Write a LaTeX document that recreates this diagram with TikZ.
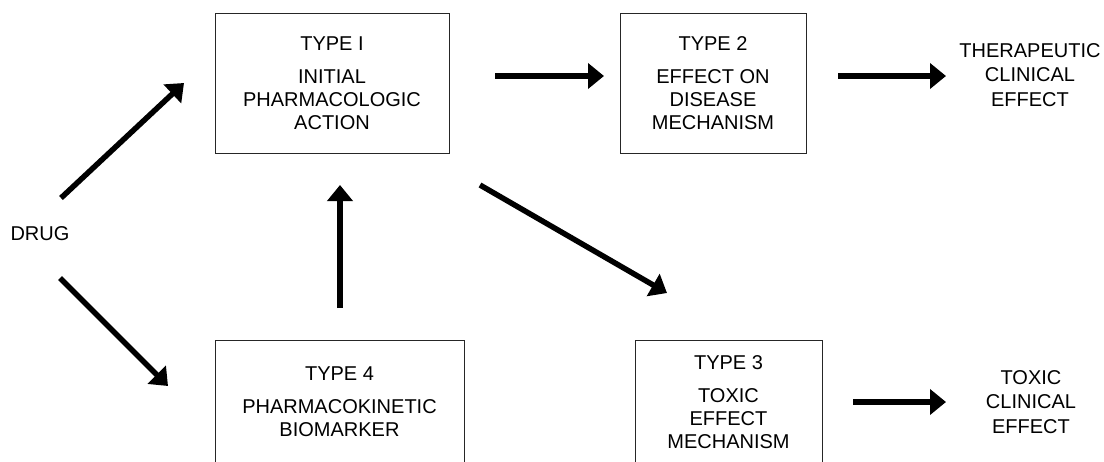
\documentclass[tikz,border=0pt]{standalone}
\usepackage{fontspec}
\setmainfont{Liberation Sans}
\usetikzlibrary{arrows.meta}
\begin{document}
\begin{tikzpicture}[x=1pt,y=-1pt,
  box/.style={draw=black!85, line width=1pt, align=center, inner sep=0pt, font=\fontsize{20}{23}\selectfont},
  lbl/.style={align=center, inner sep=0pt, font=\fontsize{20}{24.5}\selectfont},
  arr/.style={line width=5.5pt, -{Triangle[length=16pt,width=25pt]}}]
\useasboundingbox (0,0) rectangle (1104,461);
% boxes
\node[box, minimum width=234pt, minimum height=140pt] (b1) at (332,83)
  {TYPE I\\[10pt]INITIAL\\PHARMACOLOGIC\\ACTION};
\node[box, minimum width=186pt, minimum height=140pt] (b2) at (713,83)
  {TYPE 2\\[10pt]EFFECT ON\\DISEASE\\MECHANISM};
\node[box, minimum width=249pt, minimum height=124pt] (b4) at (339.5,402)
  {TYPE 4\\[10pt]PHARMACOKINETIC\\BIOMARKER};
\node[box, minimum width=187pt, minimum height=124pt] (b3) at (728.5,402)
  {TYPE 3\\[10pt]TOXIC\\EFFECT\\MECHANISM};
% labels
\node[lbl] (drug) at (40,234) {DRUG};
\node[lbl] (ther) at (1030,75) {THERAPEUTIC\\CLINICAL\\EFFECT};
\node[lbl] (tox) at (1031,402) {TOXIC\\CLINICAL\\EFFECT};
% arrow end points
\coordinate (du0) at (61,198);  \coordinate (du1) at (184,83);
\coordinate (dd0) at (60,278);  \coordinate (dd1) at (168,386);
\coordinate (v0) at (340,308);  \coordinate (v1) at (340,185);
\coordinate (g0) at (480,185);  \coordinate (g1) at (667,293);
\coordinate (h0) at (495,76);   \coordinate (h1) at (604,76);
\coordinate (t0) at (838,76);   \coordinate (t1) at (946,76);
\coordinate (x0) at (853,402);  \coordinate (x1) at (946,402);
% arrows
\draw[arr] (du0) -- (du1);
\draw[arr] (dd0) -- (dd1);
\draw[arr] (v0) -- (v1);
\draw[arr] (g0) -- (g1);
\draw[arr] (h0) -- (h1);
\draw[arr] (t0) -- (t1);
\draw[arr] (x0) -- (x1);
\end{tikzpicture}
\end{document}
